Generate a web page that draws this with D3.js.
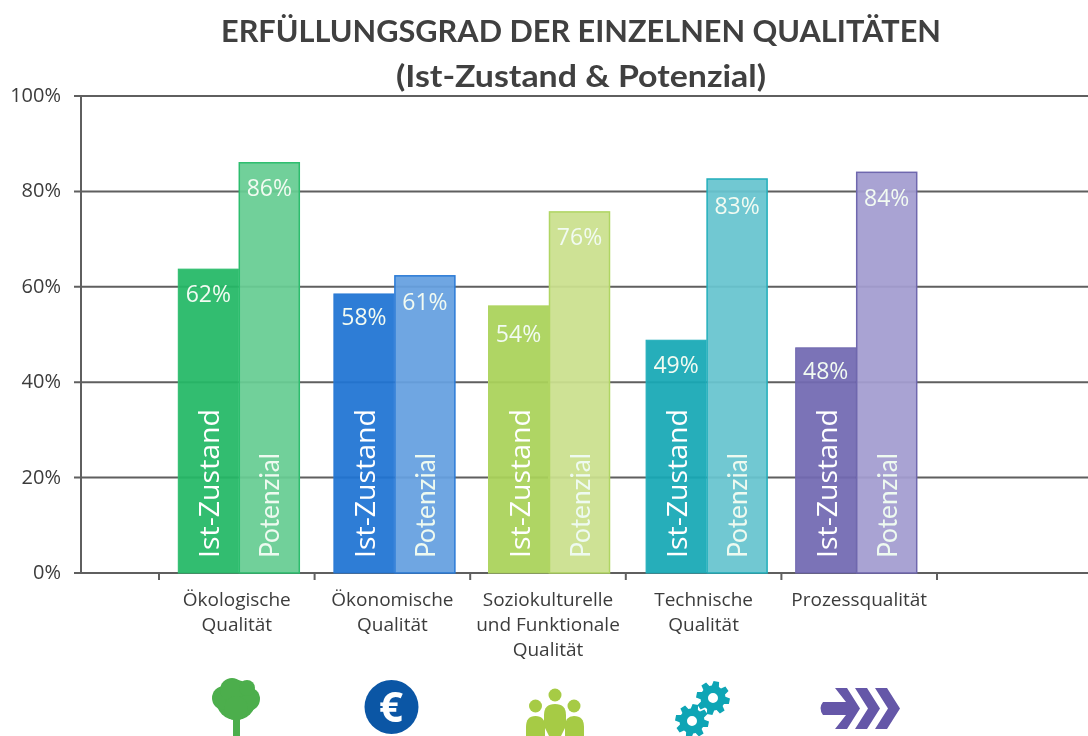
<!DOCTYPE html>
<html><head><meta charset="utf-8">
<script src="https://cdn.jsdelivr.net/npm/d3@7"></script>
<style>
html,body{margin:0;padding:0;background:#fff;overflow:hidden}
svg{display:block;filter:blur(0.45px)}
text{font-family:Lato,"Open Sans",sans-serif}
text.os{font-family:"Open Sans",Lato,sans-serif}
</style></head><body>
<svg id="c" width="1088" height="736"></svg>
<script>
const categories = [["Ökologische","Qualität"],["Ökonomische","Qualität"],["Soziokulturelle","und Funktionale","Qualität"],["Technische","Qualität"],["Prozessqualität"]];
const istValues = [63.7,58.5,56,48.8,47.2];
const potValues = [86,62.3,75.7,82.6,84];
const istLabels = ["62%","58%","54%","49%","48%"];
const potLabels = ["86%","61%","76%","83%","84%"];
const yTicks = [0,20,40,60,80,100];
const istColors = ["#25b967","#2175d3","#aad25a","#18a9b6","#736ab3"];
const potColors = ["#68cd94","#66a0e0","#cbe08e","#68c5cf","#a49dd0"];
const edgeColors = ["#2dbd6e","#2a7ad6","#b0d563","#22aebb","#6f67ae"];
const groupNudge = [2,2,1,3,-3];
const istDy = [0,-2,3,0,-2];
const potDy = [0,1,0,2,1];

const svg = d3.select("#c");
const y = d3.scaleLinear().domain([0,100]).range([573,96]);
const x = d3.scaleBand().domain(d3.range(5)).range([159,937]);
const barW = 61;
const axisCol = "#5f5f5f";

svg.append("text").attr("x",581).attr("y",42).attr("text-anchor","middle").attr("font-size",30).attr("font-weight",700).attr("fill","#404040").attr("textLength",720).attr("lengthAdjust","spacingAndGlyphs").text("ERFÜLLUNGSGRAD DER EINZELNEN QUALITÄTEN");
svg.append("text").attr("x",581).attr("y",87).attr("text-anchor","middle").attr("font-size",30).attr("font-weight",700).attr("fill","#404040").attr("textLength",370).attr("lengthAdjust","spacingAndGlyphs").text("(Ist-Zustand & Potenzial)");

yTicks.forEach(t=>{
  svg.append("line").attr("x1",74).attr("x2",1088).attr("y1",y(t)).attr("y2",y(t)).attr("stroke",axisCol).attr("stroke-width",2);
  svg.append("text").attr("class","os").attr("x",61).attr("y",y(t)+6).attr("text-anchor","end").attr("font-size",20).attr("fill","#3c3c3c").text(t+"%");
});
svg.append("line").attr("x1",81).attr("x2",81).attr("y1",y(100)).attr("y2",y(0)).attr("stroke",axisCol).attr("stroke-width",2);
x.domain().concat([5]).forEach(i=>{
  const px = i<5 ? x(i) : x(4)+x.bandwidth();
  svg.append("line").attr("x1",px).attr("x2",px).attr("y1",573).attr("y2",580).attr("stroke",axisCol).attr("stroke-width",2);
});

const cx = i=>x(i)+x.bandwidth()/2+groupNudge[i];
const g = svg.selectAll("g.cat").data(d3.range(5)).join("g").attr("class","cat");
g.append("rect").attr("x",i=>cx(i)-barW+.5).attr("y",i=>y(istValues[i])).attr("width",barW-1).attr("height",i=>y(0)-y(istValues[i]))
  .attr("fill",i=>istColors[i]).attr("fill-opacity",.94).attr("stroke",i=>edgeColors[i]).attr("stroke-width",1);
g.append("rect").attr("x",i=>cx(i)+.5).attr("y",i=>y(potValues[i])).attr("width",barW-1).attr("height",i=>y(0)-y(potValues[i]))
  .attr("fill",i=>potColors[i]).attr("fill-opacity",.94).attr("stroke",i=>edgeColors[i]).attr("stroke-width",1.5);
g.append("text").attr("class","os").attr("x",i=>cx(i)-barW/2).attr("y",i=>y(istValues[i])+33+istDy[i]).attr("text-anchor","middle").attr("font-size",23).attr("fill","#f2fbf2").text(i=>istLabels[i]);
g.append("text").attr("class","os").attr("x",i=>cx(i)+barW/2).attr("y",i=>y(potValues[i])+33+potDy[i]).attr("text-anchor","middle").attr("font-size",23).attr("fill","#f2fbf2").text(i=>potLabels[i]);
g.append("text").attr("class","os").attr("transform",i=>`translate(${cx(i)-barW/2+11},558) rotate(-90)`).attr("font-size",28).attr("fill","#fff").attr("textLength",149).attr("lengthAdjust","spacingAndGlyphs").text("Ist-Zustand");
g.append("text").attr("transform",i=>`translate(${cx(i)+barW/2+10},558) rotate(-90)`).attr("font-size",26).attr("fill","#eefaf0").attr("textLength",105).attr("lengthAdjust","spacingAndGlyphs").text("Potenzial");
g.each(function(i){
  const sel = d3.select(this);
  const lx = x(i)+x.bandwidth()/2;
  categories[i].forEach((l,k)=>{
    sel.append("text").attr("class","os").attr("x",lx).attr("y",606+k*25).attr("text-anchor","middle").attr("font-size",19).attr("fill","#3c3c3c").text(l);
  });
});

// icons
const tree = svg.append("g").attr("fill","#4cae4c");
[[236,700,20],[224,698,12],[248,699,12],[232,690,12],[247,688,8],[236,708,12]].forEach(c=>tree.append("circle").attr("cx",c[0]).attr("cy",c[1]).attr("r",c[2]));
tree.append("rect").attr("x",233).attr("y",712).attr("width",7).attr("height",24);

svg.append("circle").attr("cx",391.5).attr("cy",707).attr("r",27).attr("fill","#0b56a5");
svg.append("text").attr("class","os").attr("x",391).attr("y",722).attr("text-anchor","middle").attr("font-size",42).attr("font-weight",700).attr("fill","#fff").text("€");

const ppl = svg.append("g").attr("fill","#a6cb45");
[[535.5,706,6.5],[555,695,6.5],[574,706,6.5]].forEach(p=>ppl.append("circle").attr("cx",p[0]).attr("cy",p[1]).attr("r",p[2]));
ppl.append("path").attr("d","M526 736V727Q526 716 535.5 716Q545 716 545 727V736Z");
ppl.append("path").attr("d","M544 726V715Q544 704 555 704Q566 704 566 715V726L561 736H549Z");
ppl.append("path").attr("d","M565 736V727Q565 716 574 716Q584 716 584 727V736Z");

function gear(cx,cy,R,r,hole,n){
  let pts=[];
  for(let k=0;k<n;k++){
    const a=k/n*2*Math.PI+0.2, w=Math.PI/n*.6;
    [[r,a-w*1.25],[R,a-w*.7],[R,a+w*.7],[r,a+w*1.25]].forEach(p=>pts.push([cx+p[0]*Math.cos(p[1]),cy+p[0]*Math.sin(p[1])]));
  }
  return "M"+pts.map(p=>p.map(v=>v.toFixed(1)).join(" ")).join("L")+`Z M${cx+hole} ${cy}A${hole} ${hole} 0 1 0 ${cx-hole} ${cy}A${hole} ${hole} 0 1 0 ${cx+hole} ${cy}Z`;
}
svg.append("path").attr("fill","#0ea5b5").attr("fill-rule","evenodd").attr("d",gear(713,698,17,12.5,5,8));
svg.append("path").attr("fill","#0ea5b5").attr("fill-rule","evenodd").attr("d",gear(692,721,17,12.5,5,8));

const arr = svg.append("g").attr("fill","#6557a8");
[855,875].forEach(l=>arr.append("path").attr("d",`M${l} 688H${l+12}L${l+25} 708.5L${l+12} 729H${l}L${l+13} 708.5Z`));
arr.append("path").attr("d","M823 702H846L835 688H847L860 708.5L847 729H835L846 715H823Q818 708 823 702Z");
</script></body></html>
